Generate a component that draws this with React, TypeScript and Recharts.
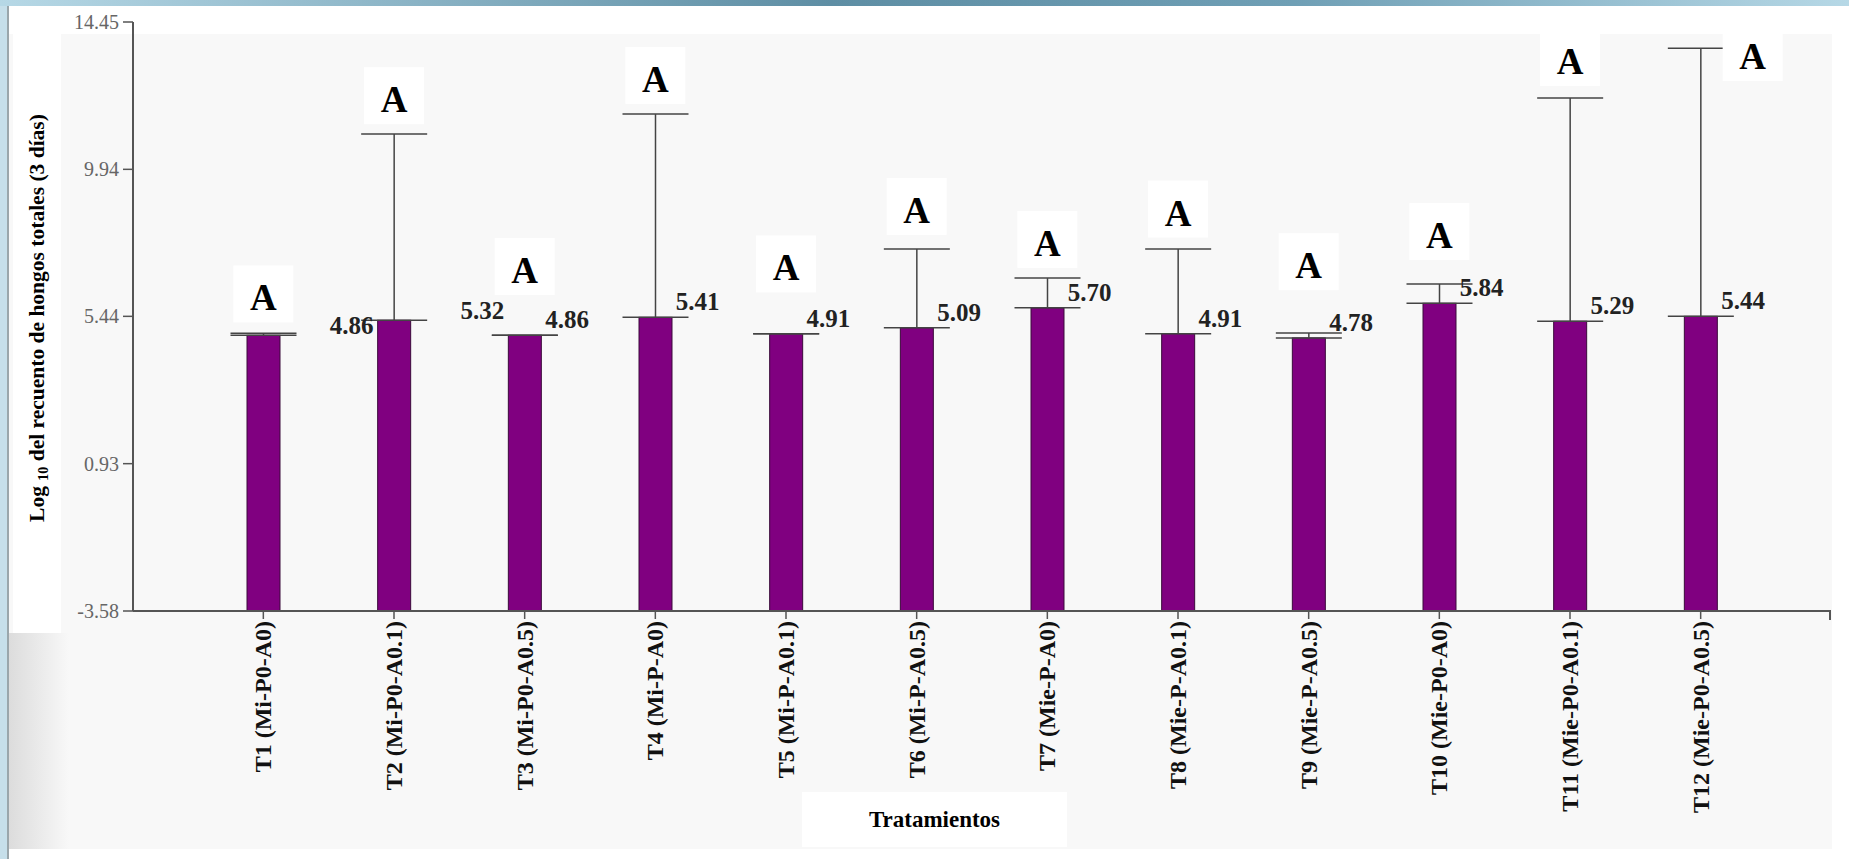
import { ComposedChart, Bar, XAxis, YAxis, ErrorBar, Scatter } from "recharts";

const SERIF = '"Liberation Serif", "Times New Roman", serif';

// tratamientos (eje X)
const treatments = [
  "T1 (Mi-P0-A0)",
  "T2 (Mi-P0-A0.1)",
  "T3 (Mi-P0-A0.5)",
  "T4 (Mi-P-A0)",
  "T5 (Mi-P-A0.1)",
  "T6 (Mi-P-A0.5)",
  "T7 (Mie-P-A0)",
  "T8 (Mie-P-A0.1)",
  "T9 (Mie-P-A0.5)",
  "T10 (Mie-P0-A0)",
  "T11 (Mie-P0-A0.1)",
  "T12 (Mie-P0-A0.5)",
];
const means = [4.86, 5.32, 4.86, 5.41, 4.91, 5.09, 5.7, 4.91, 4.78, 5.84, 5.29, 5.44];
const errUp = [0.06, 5.7, 0, 6.22, 0, 2.41, 0.91, 2.59, 0.15, 0.59, 6.83, 8.21];
const groups = ["A", "A", "A", "A", "A", "A", "A", "A", "A", "A", "A", "A"];
// height (in axis units) where each letter sits
const groupAt = [6.14, 12.21, 6.98, 12.83, 7.06, 8.82, 7.81, 8.74, 7.13, 8.05, 13.38, 13.53];
// value labels as they appear on the figure (left / right of each bar)
const leftLabels = ["", "4.86", "5.32", "", "", "", "", "", "", "", "", ""];
const rightLabels = ["", "", "4.86", "5.41", "4.91", "5.09", "5.70", "4.91", "4.78", "5.84", "5.29", "5.44"];
const yTicks = [-3.58, 0.93, 5.44, 9.94, 14.45];
const Y_MIN = -3.58;
const Y_MAX = 14.45;

const chartData = treatments.map((name, i) => ({
  name,
  mean: means[i],
  err: [0, errUp[i]],
  top: means[i] + errUp[i],
  group: groups[i],
  groupY: groupAt[i],
  left: leftLabels[i],
  leftY: leftLabels[i] ? parseFloat(leftLabels[i]) : null,
  right: rightLabels[i],
  rightY: rightLabels[i] ? parseFloat(rightLabels[i]) : null,
}));

const BAR_W = 33;

// bars are drawn down to the bottom of the axis (-3.58), not from 0
const BarShape = (props: any) => {
  const { x, y, width, height, value, background } = props;
  let bottom = y + height;
  if (background && background.height) {
    bottom = background.y + background.height;
  } else if (value) {
    bottom = y + height + (0 - Y_MIN) * (height / value);
  }
  return (
    <rect x={x} y={y} width={width} height={bottom - y} fill="#800080" stroke="#3a0a3a" strokeWidth={1} />
  );
};

const LetterShape = (props: any) => {
  const { cx, cy, payload } = props;
  if (cx == null || cy == null) return <g />;
  // move the letter aside when the whisker runs through it
  const px = payload.groupY < payload.top ? cx + 52 : cx;
  return (
    <g>
      <rect x={px - 30} y={cy - 28} width={60} height={57} fill="#ffffff" />
      <text x={px} y={cy + 17} textAnchor="middle" fontFamily={SERIF} fontWeight="bold" fontSize={37} fill="#000">
        {payload.group}
      </text>
    </g>
  );
};

const RightLabel = (props: any) => {
  const { cx, cy, payload } = props;
  if (!payload.right || cy == null || isNaN(cy)) return <g />;
  return (
    <text x={cx + BAR_W / 2 + 4} y={cy - 7} fontFamily={SERIF} fontWeight="bold" fontSize={25} fill="#222">
      {payload.right}
    </text>
  );
};

const LeftLabel = (props: any) => {
  const { cx, cy, payload } = props;
  if (!payload.left || cy == null || isNaN(cy)) return <g />;
  return (
    <text x={cx - BAR_W / 2 - 4} y={cy - 1} textAnchor="end" fontFamily={SERIF} fontWeight="bold" fontSize={25} fill="#222">
      {payload.left}
    </text>
  );
};

const XTick = (props: any) => {
  const { x, y, payload } = props;
  const tx = x + 8;
  return (
    <text
      x={tx}
      y={y}
      transform={`rotate(-90, ${tx}, ${y})`}
      textAnchor="end"
      fontFamily={SERIF}
      fontWeight="bold"
      fontSize={24}
      fill="#111"
    >
      {payload.value}
    </text>
  );
};

export default function App() {
  return (
    <div style={{ position: "absolute", left: 0, top: 0, width: 1849, height: 859, background: "#ffffff", overflow: "hidden" }}>
      {/* slide frame */}
      <div style={{ position: "absolute", left: 9, top: 34, width: 1823, height: 815, background: "#f8f8f8" }} />
      <div
        style={{
          position: "absolute",
          left: 9,
          top: 633,
          width: 60,
          height: 216,
          background: "linear-gradient(to right, #dcdcdc, #f8f8f8)",
        }}
      />
      <div
        style={{
          position: "absolute",
          left: 0,
          top: 0,
          width: 1849,
          height: 6,
          background: "linear-gradient(to right, #b6d8e6, #5e8ea4 45%, #6f9fb5 70%, #b6d8e6)",
        }}
      />
      <div
        style={{
          position: "absolute",
          left: 0,
          top: 6,
          width: 7,
          height: 853,
          background: "#c6dfea",
          borderRight: "2px solid #9aa6ab",
        }}
      />
      <div style={{ position: "absolute", left: 13, top: 14, width: 48, height: 619, background: "#ffffff" }}>
        <svg width={48} height={619}>
          <text
            x={31}
            y={304}
            transform="rotate(-90, 31, 304)"
            textAnchor="middle"
            fontFamily={SERIF}
            fontWeight="bold"
            fontSize={21.5}
            fill="#000"
          >
            Log <tspan fontSize={14} dy={4}>10</tspan>
            <tspan dy={-4}> del recuento de hongos totales (3 días)</tspan>
          </text>
        </svg>
      </div>
      <div
        style={{
          position: "absolute",
          left: 802,
          top: 792,
          width: 265,
          height: 55,
          background: "#ffffff",
          display: "flex",
          alignItems: "center",
          justifyContent: "center",
          fontFamily: SERIF,
          fontWeight: "bold",
          fontSize: 23,
          color: "#000",
        }}
      >
        Tratamientos
      </div>
      {/* small closing tick at the right end of the x axis */}
      <div style={{ position: "absolute", left: 1829, top: 610, width: 2, height: 10, background: "#555" }} />
      <div style={{ position: "absolute", left: 0, top: 0 }}>
        <ComposedChart width={1849} height={859} data={chartData} margin={{ top: 22, right: 18, bottom: 18, left: 63 }}>
          <XAxis
            dataKey="name"
            type="category"
            padding={{ left: 65, right: 65 }}
            height={230}
            interval={0}
            tickSize={8}
            tickMargin={2}
            tick={<XTick />}
            axisLine={{ stroke: "#555", strokeWidth: 2 }}
            tickLine={{ stroke: "#555", strokeWidth: 1.5 }}
          />
          <YAxis
            type="number"
            domain={[Y_MIN, Y_MAX]}
            ticks={yTicks}
            interval={0}
            allowDataOverflow
            width={70}
            tickSize={10}
            tickMargin={4}
            axisLine={{ stroke: "#555", strokeWidth: 2 }}
            tickLine={{ stroke: "#555", strokeWidth: 1.5 }}
            tick={{ fill: "#666", fontSize: 20, fontFamily: SERIF }}
            tickFormatter={(v: number) => v.toFixed(2)}
          />
          <Bar dataKey="mean" barSize={BAR_W} shape={BarShape} isAnimationActive={false}>
            <ErrorBar dataKey="err" width={BAR_W} stroke="#444" strokeWidth={1.5} direction="y" />
          </Bar>
          <Scatter dataKey="rightY" shape={RightLabel} isAnimationActive={false} />
          <Scatter dataKey="leftY" shape={LeftLabel} isAnimationActive={false} />
          <Scatter dataKey="groupY" shape={LetterShape} isAnimationActive={false} />
        </ComposedChart>
      </div>
    </div>
  );
}
